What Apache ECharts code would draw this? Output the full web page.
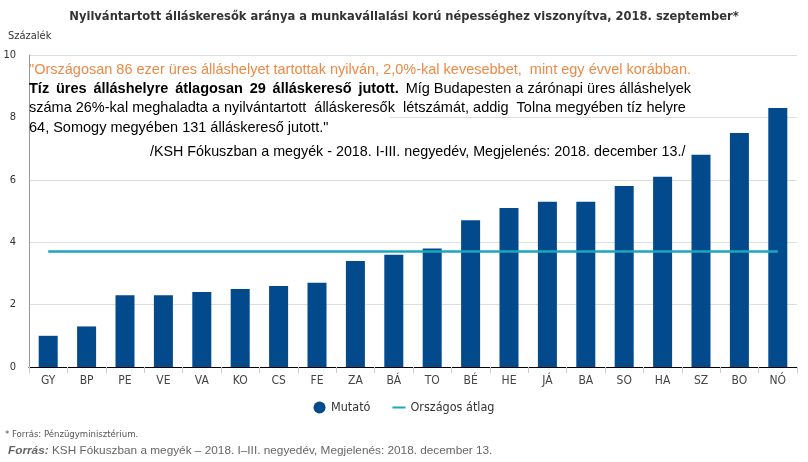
<!DOCTYPE html>
<html>
<head>
<meta charset="utf-8">
<script src="https://cdn.jsdelivr.net/npm/echarts@6/dist/echarts.min.js"></script>
<style>html,body{margin:0;padding:0;background:#fff}#c{width:808px;height:462px}</style>
</head>
<body>
<div id="c"></div>
<script>
const categories = ['GY','BP','PE','VE','VA','KO','CS','FE','ZA','BÁ','TO','BÉ','HE','JÁ','BA','SO','HA','SZ','BO','NÓ'];
const mutato = [1.0,1.3,2.3,2.3,2.4,2.5,2.6,2.7,3.4,3.6,3.8,4.7,5.1,5.3,5.3,5.8,6.1,6.8,7.5,8.3];
const orszagosAtlag = 3.7;
const yTicks = [0,2,4,6,8,10];

const titleText = 'Nyilvántartott álláskeresők aránya a munkavállalási korú népességhez viszonyítva, 2018. szeptember*';
const quoteLine1 = '"Országosan 86 ezer üres álláshelyet tartottak nyilván, 2,0%-kal kevesebbet,  mint egy évvel korábban.';
const quoteLine2Bold = 'Tíz üres álláshelyre átlagosan 29 álláskereső jutott.';
const quoteLine2 = 'Míg Budapesten a zárónapi üres álláshelyek';
const quoteLine3 = 'száma 26%-kal meghaladta a nyilvántartott  álláskeresők  létszámát, addig  Tolna megyében tíz helyre';
const quoteLine4 = '64, Somogy megyében 131 álláskereső jutott."';
const quoteLine5 = '/KSH Fókuszban a megyék - 2018. I-III. negyedév, Megjelenés: 2018. december 13./';

const NARROW = '"Liberation Sans Narrow", "Arial Narrow", "DejaVu Sans Condensed", sans-serif';
const QF = '"Liberation Sans", Arial, sans-serif';
const QS = '14.5px ';

const boldRich = quoteLine2Bold.split(' ').map(w => '{b|' + w + '}').join('{b| }{s| }');

const chart = echarts.init(document.getElementById('c'));
chart.setOption({
  animation: false,
  title: {
    text: titleText, left: 'center', top: 5,
    textStyle: {fontFamily: NARROW, fontSize: 12.8, fontWeight: 'bold', color: '#333'}
  },
  grid: {left: 29, right: 11, top: 55, bottom: 95, containLabel: false},
  xAxis: {
    type: 'category', data: categories,
    axisLine: {lineStyle: {color: '#000', width: 1}},
    axisTick: {show: true, length: 6, lineStyle: {color: '#ccc'}},
    axisLabel: {fontFamily: NARROW, fontSize: 12, color: '#444', margin: 8}
  },
  yAxis: {
    type: 'value', min: 0, max: 10, interval: 2,
    name: 'Százalék', nameLocation: 'end', nameGap: 13,
    nameTextStyle: {fontFamily: NARROW, fontSize: 11, color: '#333', align: 'left', padding: [0,0,0,-21]},
    axisLine: {show: true, lineStyle: {color: '#999'}},
    axisTick: {show: false},
    axisLabel: {fontFamily: NARROW, fontSize: 11, color: '#333', margin: 13,
      formatter: v => yTicks.includes(v) ? String(v) : ''},
    splitLine: {lineStyle: {color: '#ddd'}}
  },
  legend: {
    bottom: 43, left: 'center', itemGap: 22, itemWidth: 13, itemHeight: 12,
    textStyle: {fontFamily: NARROW, fontSize: 12.5, color: '#333'},
    data: [
      {name: 'Mutató', icon: 'circle'},
      {name: 'Országos átlag', icon: 'path://M0,0M0,5L13,5L13,7L0,7ZM13,12'}
    ]
  },
  series: [
    {name: 'Mutató', type: 'bar', data: mutato, barWidth: 19,
     itemStyle: {color: '#024a8b'}},
    {name: 'Országos átlag', type: 'line', data: categories.map(() => orszagosAtlag),
     symbol: 'none', lineStyle: {color: '#1ea5c0', width: 2.5}, itemStyle: {color: '#1ea5c0'}}
  ],
  graphic: [
    {type: 'rect', shape: {x: 30, y: 111, width: 360, height: 13}, style: {fill: '#fff'}, z: 50},
    {type: 'text', x: 29, y: 70, z: 100, style: {text: quoteLine1, font: QS + QF, fill: '#ed8a45', verticalAlign: 'middle'}},
    {type: 'text', x: 29, y: 89, z: 100, style: {text: boldRich, verticalAlign: 'middle',
      rich: {b: {font: 'bold ' + QS + QF, fill: '#000'}, s: {font: 'bold 10px ' + QF, fill: '#000'}}}},
    {type: 'text', x: 691, y: 89, z: 100, style: {text: quoteLine2, font: QS + QF, fill: '#000', verticalAlign: 'middle', align: 'right'}},
    {type: 'text', x: 29, y: 108, z: 100, style: {text: quoteLine3, font: QS + QF, fill: '#000', verticalAlign: 'middle'}},
    {type: 'text', x: 29, y: 128, z: 100, style: {text: quoteLine4, font: QS + QF, fill: '#000', verticalAlign: 'middle'}},
    {type: 'text', x: 150, y: 152, z: 100, style: {text: quoteLine5, font: '14.3px ' + QF, fill: '#000', verticalAlign: 'middle'}},
    {type: 'text', x: 5, y: 435, style: {text: '* Forrás: Pénzügyminisztérium.', font: '9.5px ' + NARROW, fill: '#555', verticalAlign: 'middle'}},
    {type: 'text', x: 8, y: 451, style: {
      text: '{b|Forrás:}{n| KSH Fókuszban a megyék – 2018. I–III. negyedév, Megjelenés: 2018. december 13.}', verticalAlign: 'middle',
      rich: {b: {font: 'italic bold 11.8px ' + QF, fill: '#666'}, n: {font: '11.8px ' + QF, fill: '#666'}}}}
  ]
});
</script>
</body>
</html>
